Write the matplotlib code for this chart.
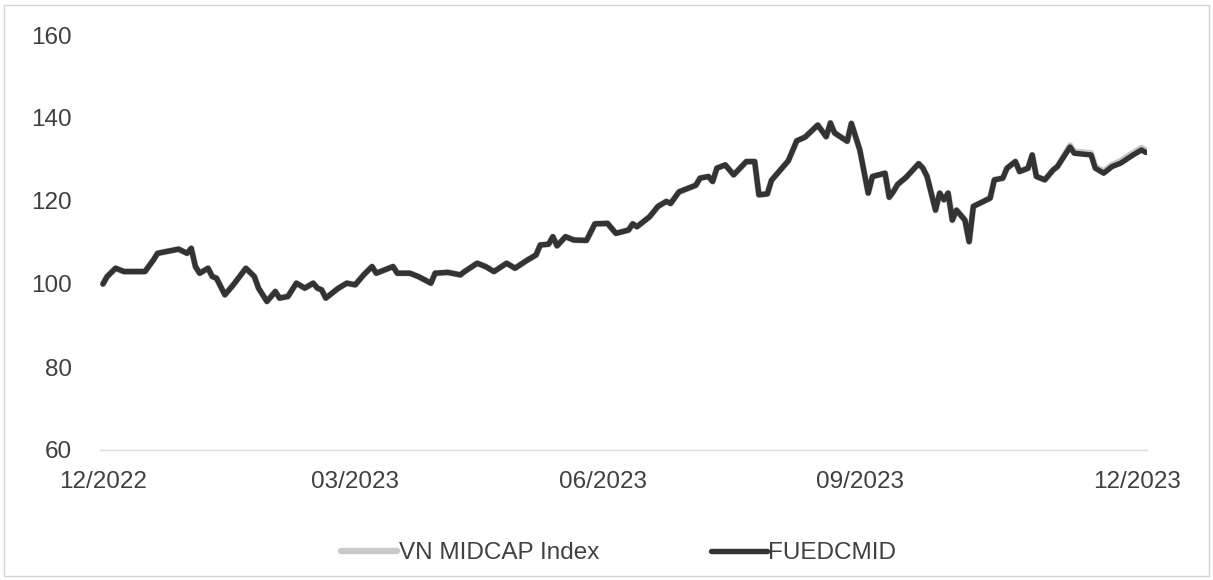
import matplotlib
matplotlib.use("Agg")
import matplotlib.pyplot as plt
from matplotlib.patches import Rectangle

plt.rcParams['font.family'] = ['Liberation Sans', 'DejaVu Sans']

# phien giao dich (chi so phien) va gia tri NAV/chi so quy doi ve 100
phien = [0, 1, 3, 5, 10, 12, 13, 18, 20, 21, 22, 23, 25, 26, 27, 29, 31, 34, 36, 37,
         39, 41, 42, 44, 46, 48, 50, 51, 52, 53, 56, 58, 60, 62, 64, 65, 67, 69, 70, 73,
         75, 78, 79, 82, 85, 86, 89, 91, 93, 96, 98, 101, 103, 104, 106, 107, 108, 110, 112, 115,
         117, 120, 122, 125, 126, 127, 130, 132, 134, 135, 137, 141, 142, 144, 145, 146, 148, 150, 153, 155,
         156, 158, 159, 163, 165, 167, 170, 172, 173, 174, 177, 178, 179, 180, 182, 183, 186, 187, 188, 189,
         191, 194, 195, 196, 198, 199, 200, 201, 202, 203, 205, 206, 207, 211, 212, 214, 215, 217, 218, 220,
         221, 222, 224, 226, 227, 230, 231, 235, 236, 238, 240, 242, 245, 247, 248]

fuedcmid = [100.0, 101.8, 103.8, 103.0, 103.0, 105.8, 107.4, 108.4, 107.4, 108.6,
            104.2, 102.6, 103.8, 101.8, 101.4, 97.4, 99.8, 103.8, 101.8, 99.0,
            95.8, 98.2, 96.6, 97.0, 100.2, 99.0, 100.2, 99.0, 98.6, 96.6,
            99.0, 100.2, 99.8, 102.2, 104.2, 102.6, 103.4, 104.2, 102.6, 102.6,
            101.8, 100.2, 102.6, 102.8, 102.2, 103.0, 105.0, 104.2, 103.0, 105.0,
            103.8, 105.8, 107.0, 109.4, 109.6, 111.4, 109.2, 111.4, 110.6, 110.5,
            114.5, 114.6, 112.2, 113.0, 114.5, 113.8, 116.2, 118.7, 119.9, 119.4,
            122.2, 123.8, 125.5, 125.9, 124.7, 127.9, 128.7, 126.3, 129.5, 129.5,
            121.5, 121.7, 125.0, 129.7, 134.5, 135.4, 138.3, 135.5, 138.8, 136.4,
            134.4, 138.7, 135.5, 132.3, 121.9, 125.9, 126.7, 120.9, 122.3, 124.0,
            125.7, 129.0, 127.9, 125.9, 117.8, 121.9, 120.3, 121.9, 115.4, 117.8,
            115.4, 110.2, 118.7, 120.7, 125.1, 125.5, 127.9, 129.5, 127.1, 127.9,
            131.1, 125.9, 125.1, 127.5, 128.3, 133.0, 131.5, 131.1, 127.9, 126.7,
            128.3, 129.1, 131.1, 132.3, 131.7]

vn_midcap = [100.0, 101.8, 103.8, 103.0, 103.0, 105.8, 107.4, 108.4, 107.4, 108.6,
             104.2, 102.6, 103.8, 101.8, 101.4, 97.4, 99.8, 103.8, 101.8, 99.0,
             95.8, 98.2, 96.6, 97.0, 100.2, 99.0, 100.2, 99.0, 98.6, 96.6,
             99.0, 100.2, 99.8, 102.2, 104.2, 102.6, 103.4, 104.2, 102.6, 102.6,
             101.8, 100.2, 102.6, 102.8, 102.2, 103.0, 105.0, 104.2, 103.0, 105.0,
             103.8, 105.8, 107.0, 109.4, 109.6, 111.4, 109.2, 111.4, 110.6, 110.5,
             114.5, 114.6, 112.2, 113.0, 114.5, 113.8, 116.2, 118.7, 119.9, 119.4,
             122.2, 123.8, 125.5, 125.9, 124.7, 127.9, 128.7, 126.3, 129.5, 129.5,
             121.5, 121.7, 125.0, 129.7, 134.5, 135.4, 138.3, 135.5, 138.8, 136.4,
             134.4, 138.7, 135.5, 132.3, 121.9, 125.9, 126.7, 120.9, 122.3, 124.0,
             125.7, 129.0, 127.9, 125.9, 117.8, 121.9, 120.3, 121.9, 115.4, 117.8,
             115.4, 110.2, 118.7, 120.7, 125.1, 125.5, 127.9, 129.5, 127.1, 127.9,
             131.1, 125.9, 125.1, 127.5, 128.3, 133.4, 131.9, 131.5, 128.3, 127.1,
             128.7, 129.6, 131.6, 132.8, 132.2]

nhan_thang = ["12/2022", "03/2023", "06/2023", "09/2023", "12/2023"]
vi_tri_nhan = [0, 60, 119, 180, 246]

fig = plt.figure(figsize=(12.13, 5.8), dpi=100)
ax = fig.add_axes([100 / 1213, 1 - 450 / 580, 1047 / 1213, 415 / 580])

ax.plot(phien, vn_midcap, color="#c9c9c9", linewidth=4.6, label="VN MIDCAP Index",
        solid_joinstyle="round", solid_capstyle="round")
ax.plot(phien, fuedcmid, color="#333333", linewidth=3.9, label="FUEDCMID",
        solid_joinstyle="round", solid_capstyle="round")

ax.set_xlim(-0.7, 248.3)
ax.set_ylim(60, 160)
ax.set_yticks([60, 80, 100, 120, 140, 160])
ax.set_xticks(vi_tri_nhan)
ax.set_xticklabels(nhan_thang)
ax.tick_params(axis="both", length=0, labelsize=17.5, colors="#404040")
ax.tick_params(axis="y", pad=20)
ax.tick_params(axis="x", pad=15)

for s in ["top", "right", "left"]:
    ax.spines[s].set_visible(False)
ax.spines["bottom"].set_color("#dcdcdc")
ax.spines["bottom"].set_linewidth(1.0)

fig.legend(loc="center", bbox_to_anchor=(0.51, 1 - 553 / 580), ncol=2, frameon=False,
           fontsize=17.5, handlelength=2.3, handletextpad=0.05, columnspacing=4.6,
           labelcolor="#404040")

fig.patches.append(Rectangle((4 / 1213, 4 / 580), 1205 / 1213, 571 / 580,
                             transform=fig.transFigure, fill=False,
                             edgecolor="#d4d4d4", linewidth=1.0))

fig.savefig("out.png", dpi=100)
